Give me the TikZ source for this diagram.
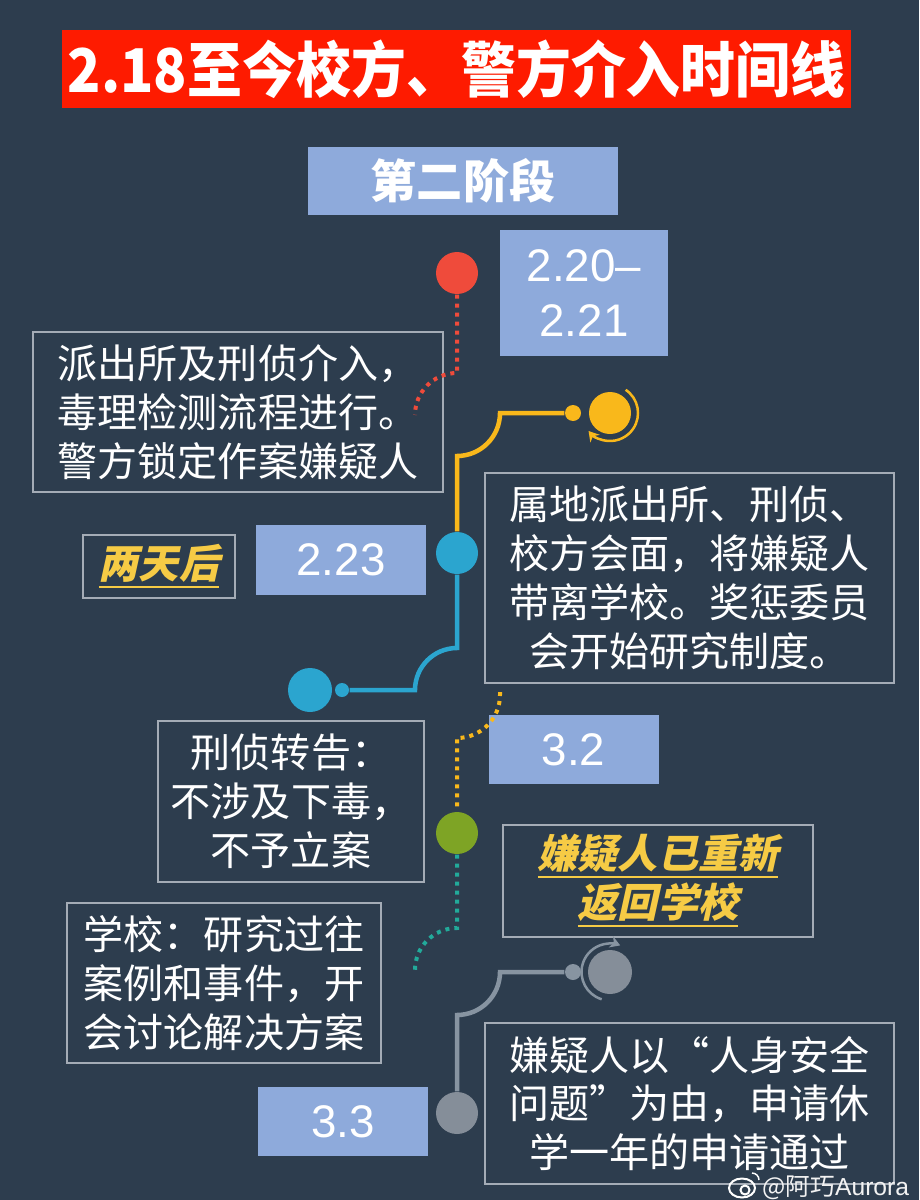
\documentclass[tikz,border=0pt]{standalone}
\usepackage{fontspec}
\setmainfont{Noto Sans CJK SC}
\newfontfamily\numfont{Liberation Sans}
\newfontfamily\slfont[FakeSlant=0.22]{Noto Sans CJK SC}
\usetikzlibrary{arrows.meta}
\definecolor{bg}{HTML}{2D3D4E}
\definecolor{titlered}{HTML}{FE1B00}
\definecolor{paleblue}{HTML}{8EAADB}
\definecolor{rim}{HTML}{A4ACB6}
\definecolor{dotred}{HTML}{EF4B3B}
\definecolor{dotyellow}{HTML}{F9B81B}
\definecolor{dotblue}{HTML}{2BA5CF}
\definecolor{dotgreen}{HTML}{7EA425}
\definecolor{dotteal}{HTML}{22AA9A}
\definecolor{dotgray}{HTML}{858E99}
\definecolor{linegray}{HTML}{8794A1}
\definecolor{gold}{HTML}{F6CB45}

\begin{document}
\begin{tikzpicture}[x=0.1mm,y=-0.1mm,
  every node/.style={inner sep=0pt,text=white,align=center,font=\fontsize{11.4}{13.9}\selectfont},
  datebox/.style={fill=paleblue,minimum width=17mm,minimum height=6.9mm,font=\numfont\fontsize{13}{15.6}\selectfont},
  textbox/.style={draw=rim,line width=0.15mm},
  goldtext/.style={text=gold,font=\slfont\bfseries\fontsize{11.4}{13.9}\selectfont},
  dot/.style={circle,minimum size=4.2mm},
  tinydot/.style={circle,minimum size=1.6mm},
  solidline/.style={line width=0.45mm},
  dotline/.style={line width=0.4mm,dash pattern=on 0.4mm off 0.5mm}]
  \fill[bg] (0,0) rectangle (919,1200);
  % headings
  \node[fill=titlered,minimum width=78.9mm,minimum height=7.8mm,font=\bfseries\fontsize{15.6}{18}\selectfont] (title) at (456.5,69) {\scalebox{1}[1.1]{2.18至今校方、警方介入时间线}};
  \node[fill=paleblue,minimum width=31mm,minimum height=6.8mm,font=\bfseries\fontsize{13.1}{15}\selectfont] (stage) at (463,181) {第二阶段};
  % dates
  \node[datebox,minimum width=16.8mm,minimum height=12.6mm] (d1) at (584,293) {2.20–\\2.21};
  \node[datebox,minimum height=7mm] (d2) at (341,560) {2.23};
  \node[datebox] (d3) at (573.5,749.5) {3.2};
  \node[datebox] (d4) at (343,1121.5) {3.3};
  % text boxes
  \node[textbox,minimum width=41mm,minimum height=16mm] (t1) at (238,412) {派出所及刑侦介入，\\毒理检测流程进行。\\警方锁定作案嫌疑人};
  \node[textbox,goldtext,minimum width=15.2mm,minimum height=6.3mm] (late) at (159,566.5) {\underline{两天后}};
  \node[textbox,minimum width=40.9mm,minimum height=21mm] (t2) at (689.5,578) {属地派出所、刑侦、\\校方会面，将嫌疑人\\带离学校。奖惩委员\\会开始研究制度。};
  \node[textbox,minimum width=26.6mm,minimum height=16.1mm] (t3) at (291,801.5) {刑侦转告：\\不涉及下毒，\\不予立案};
  \node[textbox,goldtext,minimum width=31mm,minimum height=11.2mm] (back) at (658,881) {\underline{嫌疑人已重新}\\\underline{返回学校}};
  \node[textbox,minimum width=31.4mm,minimum height=16mm] (t4) at (224,983) {学校：研究过往\\案例和事件，开\\会讨论解决方案};
  \node[textbox,minimum width=40.9mm,minimum height=16.1mm] (t5) at (689.5,1103.5) {嫌疑人以“人身安全\\问题”为由，申请休\\学一年的申请通过};
  % timeline dots
  \path (457,273) node[dot,fill=dotred] (rdot) {}
    (573,413) node[tinydot,fill=dotyellow] (ysmall) {} (610,413) node[dot,fill=dotyellow] (ycirc) {}
    (457,553) node[dot,fill=dotblue] (bdot) {}
    (342,690) node[tinydot,minimum size=1.4mm,fill=dotblue] (bsmall) {} (310,690) node[dot,minimum size=4.4mm,fill=dotblue] (bleft) {}
    (457,833) node[dot,fill=dotgreen] (gdot) {}
    (573,972) node[tinydot,fill=linegray] (gsmall) {} (610,972) node[dot,minimum size=4.4mm,fill=dotgray] (gcirc) {}
    (457,1113) node[dot,fill=dotgray] (gbot) {};
  \coordinate (ystart) at (500,692);
  % connectors
  \draw[dotline,dotred] (rdot) -- (457,373) arc[start angle=90,end angle=180,radius=4.2mm] coordinate (rend);
  \draw[solidline,dotyellow] (ysmall) -- (500,413) arc[start angle=0,end angle=-90,radius=4.3mm] -- (bdot);
  \draw[solidline,dotblue] (bdot) -- (457,648) arc[start angle=90,end angle=180,radius=4.2mm] -- (bsmall);
  \draw[dotline,dotyellow] (ystart) -- (500,695) arc[start angle=0,end angle=-90,radius=4.3mm] -- (gdot);
  \draw[dotline,dotteal] (gdot) -- (457,928) arc[start angle=90,end angle=180,radius=4.2mm] coordinate (tend);
  \draw[solidline,linegray] (gsmall) -- (500,972) arc[start angle=0,end angle=-90,radius=4.3mm] -- (gbot);
  % rings
  \draw[dotyellow,line width=0.25mm,-{Stealth[length=1mm,width=1.2mm]}] (ycirc.center) ++(56:2.8mm) arc[start angle=56,end angle=-140,radius=2.8mm];
  \draw[linegray,line width=0.25mm,-{Stealth[length=1mm,width=1.2mm]}] (gcirc.center) ++(253:2.85mm) arc[start angle=253,end angle=69,radius=2.85mm];
  % watermark
  \draw[white,line width=0.2mm] (742,1188) ellipse (1.3mm and 0.95mm);
  \draw[white,line width=0.2mm] (745,1190) circle (0.45mm);
  \draw[white,line width=0.15mm] (752,1173) arc[start angle=90,end angle=0,radius=0.7mm];
  \node[anchor=west,text=white!90!gray,font=\fontsize{7}{8}\selectfont] (mark) at (762,1188) {@阿巧{\numfont Aurora}};
\end{tikzpicture}
\end{document}
